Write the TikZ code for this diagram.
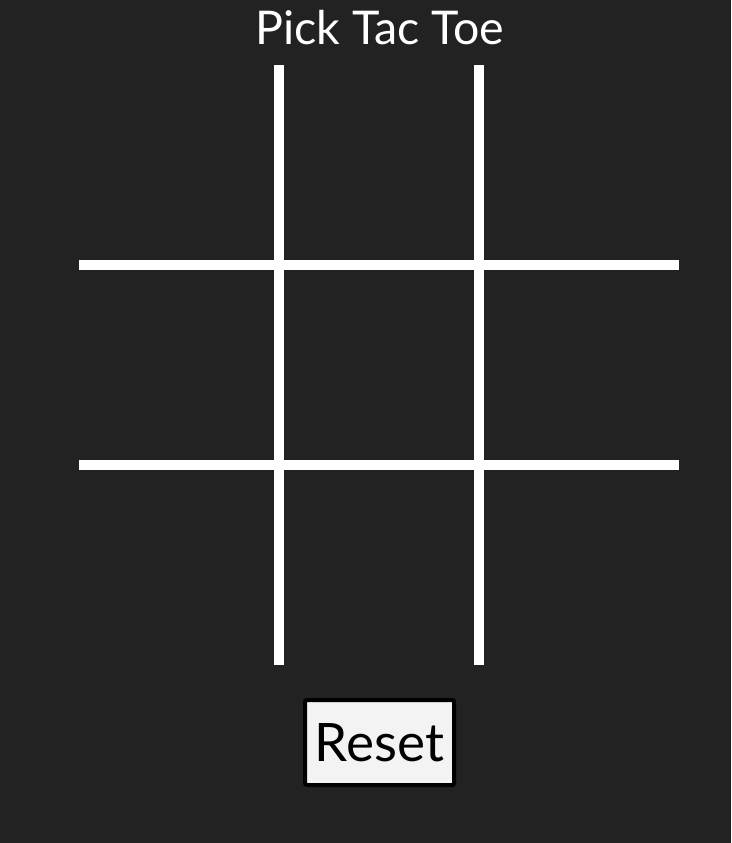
\documentclass[tikz,border=0pt]{standalone}
\usepackage{fontspec}
\setmainfont{Lato}
\definecolor{board bg}{HTML}{222222}
\definecolor{button fill}{HTML}{F3F3F3}
\tikzset{title style/.style={
		text=white,
		font=\fontsize{46.5}{54}\selectfont,
		inner sep=0pt,
	},
	button style/.style={
		draw=black,
		line width=4pt,
		fill=button fill,
		rounded corners=2pt,
		text=black,
		font=\fontsize{53}{60}\selectfont,
		minimum width=149pt,
		minimum height=85pt,
		inner sep=0pt,
	},
	grid style/.style={
		draw=white,
		line width=10pt,
	}
}

\begin{document}
\begin{tikzpicture}[x=1pt,y=-1pt]
	\fill[board bg] (0,0) rectangle (731,843);
	
	\node[title style, anchor=base] (Title) at (380,45) {Pick Tac Toe};
	
	\foreach \x in {279,479}
		\draw[grid style] (\x,65) -- (\x,665);
	\foreach \y in {265,465}
		\draw[grid style] (79,\y) -- (679,\y);
	
	\node[button style] (Reset) at (379.5,742.5) {Reset};
\end{tikzpicture}
\end{document}
